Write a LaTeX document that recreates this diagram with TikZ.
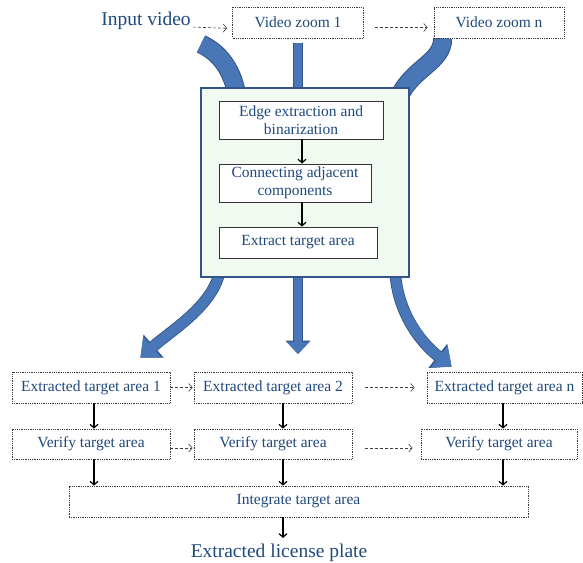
\documentclass[tikz,border=0pt]{standalone}
\usepackage{fontspec}
\setmainfont{Liberation Serif}
\usepackage{tikz}
\usetikzlibrary{arrows.meta,calc,backgrounds}
\definecolor{labelblue}{RGB}{31,73,125}
\definecolor{bandfill}{RGB}{72,118,182}
\definecolor{bandedge}{RGB}{50,84,134}
\definecolor{mint}{RGB}{241,250,241}
\tikzset{>={Straight Barb[length=3.5pt,width=8pt]}}
\tikzset{
  stepbox/.style={shape=rectangle,draw=black!78,densely dotted,line width=0.8pt,fill=white,text=labelblue,font=\fontsize{15.5}{18}\selectfont,minimum height=31pt,inner sep=0pt},
  innerbox/.style={shape=rectangle,draw=black!80,line width=0.9pt,fill=white,text=labelblue,font=\fontsize{15.5}{18}\selectfont,align=center,inner sep=0pt},
  bigbox/.style={shape=rectangle,draw=bandedge,line width=2pt,fill=mint},
  caption/.style={text=labelblue,font=\fontsize{19.5}{22}\selectfont,inner sep=0pt},
  flow/.style={->,line width=1.2pt,black},
  hint/.style={->,densely dashed,line width=0.6pt,black!75},
  band/.style={line width=17pt,draw=bandfill,preaction={draw=bandedge,line width=19pt}},
  bar/.style={line width=8pt,draw=bandfill,preaction={draw=bandedge,line width=9.6pt}},
  fatarrow/.style={line width=10pt,draw=bandfill,-{Triangle[width=27pt,length=16pt]},preaction={draw=bandedge,line width=11.6pt,-{Triangle[width=29.5pt,length=17.5pt]}}},
  downarrow/.style={line width=8pt,draw=bandfill,-{Triangle[width=22pt,length=12pt]},preaction={draw=bandedge,line width=9.6pt,-{Triangle[width=24.5pt,length=13.5pt]}}}
}

\begin{document}
\begin{tikzpicture}

\useasboundingbox (0,0) rectangle (583pt,-562pt);

\path (146pt,-21pt) node [caption] (input) {Input video};

\path (298pt,-22.5pt) node [stepbox,minimum width=131pt] (zoomone) {Video zoom 1};

\path (499pt,-22.5pt) node [stepbox,minimum width=130pt] (zoomn) {Video zoom n};

\path (305pt,-182.5pt) node [bigbox,minimum width=208pt,minimum height=189pt] (big) {};

\path (301pt,-120pt) node [innerbox,minimum width=164pt,minimum height=38pt] (edge) {Edge extraction and\\binarization};

\path (295pt,-183pt) node [innerbox,minimum width=152pt,minimum height=38pt] (connect) {Connecting adjacent\\components};

\path (298pt,-242.5pt) node [innerbox,minimum width=158pt,minimum height=31pt] (extract) {Extract target area};

\path (91pt,-387.5pt) node [stepbox,minimum width=158pt] (area1) {Extracted target area 1};

\path (273pt,-387.5pt) node [stepbox,minimum width=158pt] (area2) {Extracted target area 2};

\path (504.5pt,-387.5pt) node [stepbox,minimum width=155pt] (arean) {Extracted target area n};

\path (91pt,-444pt) node [stepbox,minimum width=158pt,minimum height=30pt] (verify1) {Verify target area};

\path (273pt,-444pt) node [stepbox,minimum width=158pt,minimum height=30pt] (verify2) {Verify target area};

\path (499pt,-444pt) node [stepbox,minimum width=156pt,minimum height=30pt] (verifyn) {Verify target area};

\path (298.5pt,-501.5pt) node [stepbox,minimum width=459pt] (merge) {Integrate target area};

\path (279pt,-553pt) node [caption] (plate) {Extracted license plate};

\coordinate (inputtail) at (201pt,-44pt);

% thick blue bands behind the detection box
\begin{pgfonlayer}{background}
\draw [band] (inputtail) .. controls (221pt,-53pt) and (233pt,-72pt) .. ($(big.north west)+(37pt,-9pt)$);
\draw [band] ($(zoomn.south west)+(9pt,0)$) .. controls (443pt,-62pt) and (412pt,-68pt) .. ($(big.north east)+(-11pt,-10pt)$);
\draw [bar] ($(zoomone.south)+(0,-5pt)$) -- (zoomone.south |- big.center);
\draw [fatarrow] ($(big.south west)+(20pt,8pt)$) .. controls (214pt,-305pt) and (172pt,-330pt) .. ($(area1.north east)+(-30pt,14pt)$);
\draw [downarrow] ($(big.south -| zoomone.south)+(0,8pt)$) -- ($(big.south -| zoomone.south)+(0,-76pt)$);
\draw [fatarrow] ($(big.south east)+(-15pt,8pt)$) .. controls (397pt,-312pt) and (420pt,-342pt) .. ($(arean.north west)+(25pt,5pt)$);
\end{pgfonlayer}

% dashed hints
\draw [hint,shorten <=2pt,shorten >=5pt] ([yshift=-6pt]input.east) -- ([yshift=-6pt]zoomone.west);
\draw [hint,shorten <=11pt,shorten >=6pt] ([yshift=-5pt]zoomone.east) -- ([yshift=-5pt]zoomn.west);
\draw [hint,shorten >=1pt] (area1) -- (area2);
\draw [hint,shorten <=13pt,shorten >=12pt] (area2) -- (arean);
\draw [hint,shorten >=1pt] ([yshift=-4pt]verify1.east) -- ([yshift=-4pt]verify2.west);
\draw [hint,shorten <=13pt,shorten >=8pt] ([yshift=-4pt]verify2.east) -- ([yshift=-4pt]verifyn.west);

% solid flow
\draw [flow] ([xshift=1pt]edge.south) -- ([xshift=1pt]edge.south |- connect.north);
\draw [flow] ([xshift=7pt]connect.south) -- ([xshift=7pt]connect.south |- extract.north);
\draw [flow] ([xshift=3pt]area1.south) -- ([xshift=3pt]verify1.north);
\draw [flow] ([xshift=10pt]area2.south) -- ([xshift=10pt]verify2.north);
\draw [flow] ([xshift=-1.5pt]arean.south) -- ([xshift=-1.5pt]arean.south |- verifyn.north);
\draw [flow] ([xshift=3pt]verify1.south) -- ([xshift=3pt]verify1.south |- merge.north);
\draw [flow] ([xshift=10pt]verify2.south) -- ([xshift=10pt]verify2.south |- merge.north);
\draw [flow] ([xshift=4pt]verifyn.south) -- ([xshift=4pt]verifyn.south |- merge.north);
\draw [flow,shorten >=6pt] ([xshift=-15.5pt]merge.south) -- ([xshift=-15.5pt]merge.south |- plate.north);

\end{tikzpicture}
\end{document}
